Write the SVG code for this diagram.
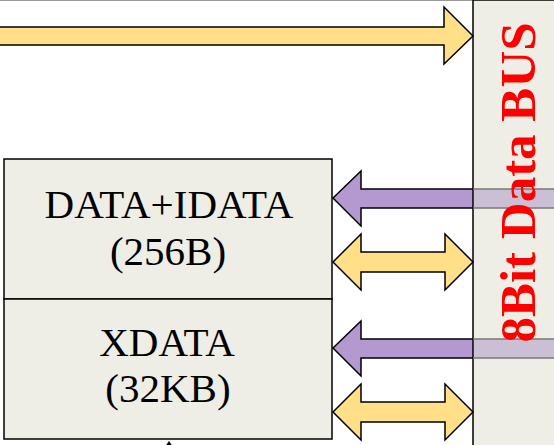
<svg xmlns="http://www.w3.org/2000/svg" width="554" height="445" viewBox="0 0 554 445">
<style>
.box{fill:#EEEEE6;stroke:#000;stroke-width:1.5}
.lbl{font-family:"Liberation Serif","Times New Roman",serif;font-size:41px;fill:#000;text-anchor:middle}
.yel{fill:#FFDF88;stroke:#000;stroke-width:1.5;stroke-linejoin:miter}
.pur{fill:#B399D0;stroke:#000;stroke-width:1.5;stroke-linejoin:miter}
.band{fill:#CBBFD6}
.bandln{stroke:#777;stroke-width:1.5}
</style>
<rect x="0" y="0" width="554" height="445" fill="#fff"/>
<line x1="0" y1="0.5" x2="554" y2="0.5" stroke="#999" stroke-width="1"/>
<g id="bus">
<rect x="473" y="0" width="82" height="446" fill="#EEEEE6" stroke="#000" stroke-width="1.5"/>
</g>
<g id="connectors">
<polygon class="yel" points="-2,27 444,27 444,7 473,36 444,64 444,45 -2,45"/>
<polygon class="pur" points="333,198 361,171 361,189 473,189 473,208 361,208 361,226"/>
<rect class="band" x="473.75" y="189" width="82" height="19"/>
<line class="bandln" x1="473" y1="189" x2="554" y2="189"/>
<line class="bandln" x1="473" y1="208" x2="554" y2="208"/>
<polygon class="yel" points="333,262 361,234 361,252 445,252 445,234 473,262 445,290 445,272 361,272 361,290"/>
<polygon class="pur" points="333,348 361,321 361,339 473,339 473,358 361,358 361,376"/>
<rect class="band" x="473.75" y="339" width="82" height="19"/>
<line class="bandln" x1="473" y1="339" x2="554" y2="339"/>
<line class="bandln" x1="473" y1="358" x2="554" y2="358"/>
<polygon class="yel" points="333,412 361,384 361,402 445,402 445,384 473,412 445,440 445,422 361,422 361,440"/>
<polygon points="169,441 165.5,446 172.5,446" fill="#000"/>
</g>
<g id="bus-label">
<text x="535" y="182.5" transform="rotate(-90 535 182.5)" text-anchor="middle" font-family="'Liberation Serif','Times New Roman',serif" font-weight="bold" font-size="51" fill="#FF0000">8Bit Data BUS</text>
</g>
<g id="data-idata">
<rect class="box" x="4" y="159" width="328" height="140"/>
<text class="lbl" x="169" y="218">DATA+IDATA</text>
<text class="lbl" x="168" y="265">(256B)</text>
</g>
<g id="xdata">
<rect class="box" x="4" y="299" width="328" height="140"/>
<text class="lbl" x="167" y="356">XDATA</text>
<text class="lbl" x="168" y="402">(32KB)</text>
</g>
</svg>
